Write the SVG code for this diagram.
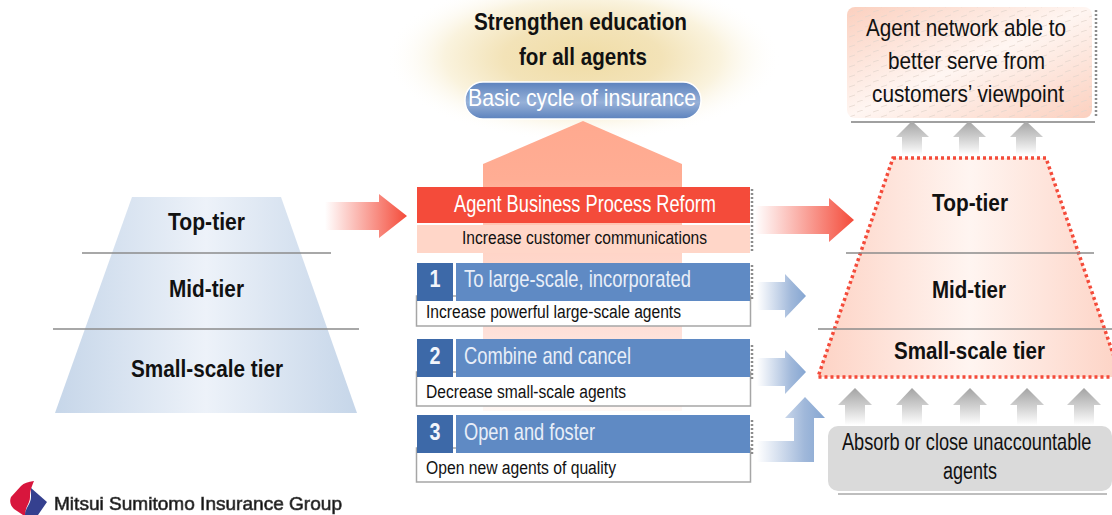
<svg xmlns="http://www.w3.org/2000/svg" width="1112" height="515" viewBox="0 0 1112 515">
<style>
text{font-family:"Liberation Sans",Arial,sans-serif;fill:#111}
.b{font-weight:bold;font-size:24px}
.m{font-size:24px}
.a{font-size:23px}
.s{font-size:18px}
.w{fill:#fff}
.wl{fill:#e8eef8}
.n{font-size:24px;font-weight:bold;fill:#f2f5fb}
.tier{stroke:#8c8c8c;stroke-width:1.3;fill:none}
.red{fill:#f44b3a}
.blue{fill:#5f8ac4}
.dark{fill:#3d69a8}
.desc{fill:#fff;stroke:#a6a6a6;stroke-width:1.5}
.dots{stroke:#8c8c8c;stroke-width:2.5;stroke-dasharray:2 2;fill:none}
.ga{fill:url(#gGray)}
.ba{fill:url(#gBlue)}
.ra{fill:url(#gRed)}
</style>
<defs>
<linearGradient id="gLeft"><stop offset="0" stop-color="#c6d6e9"/><stop offset=".5" stop-color="#edf2f9"/><stop offset="1" stop-color="#c6d6e9"/></linearGradient>
<linearGradient id="gRight"><stop offset="0" stop-color="#fdd3c5"/><stop offset=".5" stop-color="#fff5f1"/><stop offset="1" stop-color="#fdd3c5"/></linearGradient>
<linearGradient id="gBig" x1="0" y1="0" x2="0" y2="1"><stop offset="0" stop-color="#ffa98f"/><stop offset=".2" stop-color="#ffad94"/><stop offset=".46" stop-color="#ffd5c8"/><stop offset=".72" stop-color="#ffe0d8"/><stop offset="1" stop-color="#fff8f5"/></linearGradient>
<linearGradient id="gPill" x1="0" y1="0" x2="0" y2="1"><stop offset="0" stop-color="#5c82bd"/><stop offset=".55" stop-color="#97b1d8"/><stop offset="1" stop-color="#5c82bd"/></linearGradient>
<linearGradient id="gRed"><stop offset="0" stop-color="#f44b3a" stop-opacity="0"/><stop offset="1" stop-color="#f44b3a"/></linearGradient>
<linearGradient id="gBlue"><stop offset="0" stop-color="#a5bbdc" stop-opacity="0"/><stop offset=".7" stop-color="#a0b8da"/><stop offset="1" stop-color="#85a6d2"/></linearGradient>
<linearGradient id="gGray" x1="0" y1="0" x2="0" y2="1"><stop offset="0" stop-color="#a3a3a3"/><stop offset=".5" stop-color="#d0d0d0"/><stop offset="1" stop-color="#fff"/></linearGradient>
<radialGradient id="gGlow"><stop offset="0" stop-color="#f0dca5"/><stop offset=".4" stop-color="#f3e3b8"/><stop offset=".7" stop-color="#faf3de"/><stop offset="1" stop-color="#fff" stop-opacity="0"/></radialGradient>
<linearGradient id="gGoal" x1="0" y1="0" x2="1" y2="1"><stop offset="0" stop-color="#fbd0bf"/><stop offset=".5" stop-color="#fff6f2"/><stop offset="1" stop-color="#fbd0bf"/></linearGradient>
<pattern id="pGoal" width="16" height="10" patternUnits="userSpaceOnUse"><path d="M1 7L7 5M9 2L15 0" stroke="#e3d4cc" stroke-width=".7" fill="none"/></pattern>
<filter id="soft" x="-5%" y="-20%" width="110%" height="140%"><feGaussianBlur stdDeviation=".5"/></filter>
</defs>
<rect width="1112" height="515" fill="#fff"/>

<g id="left-pyramid">
<polygon points="132,197 281,197 357,413 55,413" fill="url(#gLeft)"/>
<path class="tier" d="M82 253H331M53 329H359"/>
<text class="b" x="168" y="230" textLength="77" lengthAdjust="spacingAndGlyphs">Top-tier</text>
<text class="b" x="169" y="297" textLength="75" lengthAdjust="spacingAndGlyphs">Mid-tier</text>
<text class="b" x="131" y="377" textLength="152" lengthAdjust="spacingAndGlyphs">Small-scale tier</text>
</g>

<g id="education">
<ellipse cx="583" cy="58" rx="198" ry="84" fill="url(#gGlow)"/>
<text class="b" x="474" y="30" textLength="213" lengthAdjust="spacingAndGlyphs">Strengthen education</text>
<text class="b" x="519" y="65" textLength="128" lengthAdjust="spacingAndGlyphs">for all agents</text>
</g>

<g id="basic-cycle">
<rect x="465" y="82" width="236" height="37" rx="18" fill="url(#gPill)" stroke="#fff" stroke-width="1.5"/>
<text class="m w" x="468" y="106" textLength="228" lengthAdjust="spacingAndGlyphs">Basic cycle of insurance</text>
</g>

<polygon id="big-arrow" points="583,121 682,164 682,411 483,411 483,164" fill="url(#gBig)"/>

<g id="reform">
<rect x="417" y="187" width="333" height="36" class="red"/>
<rect x="417" y="225" width="333" height="28" fill="#ffd6c8"/>
<path class="dots" d="M752 189V251"/>
<text class="m w" x="454" y="212" textLength="262" lengthAdjust="spacingAndGlyphs">Agent Business Process Reform</text>
<text class="s" x="462" y="244" textLength="245" lengthAdjust="spacingAndGlyphs">Increase customer communications</text>
</g>

<g id="step-1">
<rect x="416.500" y="296" width="334" height="30" class="desc"/>
<rect x="417" y="263" width="36" height="38" class="dark"/>
<rect x="456" y="263" width="294" height="38" class="blue"/>
<path class="dots" d="M752 265V299"/>
<text class="n" x="435" y="287" text-anchor="middle" textLength="11" lengthAdjust="spacingAndGlyphs">1</text>
<text class="m wl" x="464" y="287" textLength="227" lengthAdjust="spacingAndGlyphs">To large-scale, incorporated</text>
<text class="s" x="426" y="318" textLength="255" lengthAdjust="spacingAndGlyphs">Increase powerful large-scale agents</text>
</g>
<g id="step-2">
<rect x="416.500" y="372" width="334" height="34" class="desc"/>
<rect x="417" y="339" width="36" height="38" class="dark"/>
<rect x="456" y="339" width="294" height="38" class="blue"/>
<path class="dots" d="M752 345V379"/>
<text class="n" x="435" y="364" text-anchor="middle" textLength="11" lengthAdjust="spacingAndGlyphs">2</text>
<text class="m wl" x="464" y="364" textLength="167" lengthAdjust="spacingAndGlyphs">Combine and cancel</text>
<text class="s" x="426" y="398" textLength="200" lengthAdjust="spacingAndGlyphs">Decrease small-scale agents</text>
</g>
<g id="step-3">
<rect x="416.500" y="448" width="334" height="34" class="desc"/>
<rect x="417" y="415" width="36" height="38" class="dark"/>
<rect x="456" y="415" width="294" height="38" class="blue"/>
<path class="dots" d="M752 420V455"/>
<text class="n" x="435" y="440" text-anchor="middle" textLength="11" lengthAdjust="spacingAndGlyphs">3</text>
<text class="m wl" x="464" y="440" textLength="131" lengthAdjust="spacingAndGlyphs">Open and foster</text>
<text class="s" x="426" y="474" textLength="190" lengthAdjust="spacingAndGlyphs">Open new agents of quality</text>
</g>

<g id="right-pyramid">
<polygon points="893,158 1046,158 1121,377 818,377" fill="url(#gRight)" stroke="#f44b3a" stroke-width="3.500" stroke-dasharray="3 3"/>
<path class="tier" d="M846 253H1094M818 329H1112"/>
<text class="b" x="932" y="211" textLength="76" lengthAdjust="spacingAndGlyphs">Top-tier</text>
<text class="b" x="932" y="298" textLength="74" lengthAdjust="spacingAndGlyphs">Mid-tier</text>
<text class="b" x="894" y="359" textLength="151" lengthAdjust="spacingAndGlyphs">Small-scale tier</text>
</g>

<g id="goal">
<path d="M851 122H1095" stroke="#a0a0a0" stroke-width="2" fill="none"/>
<path class="dots" d="M1096 10V117"/>
<rect x="847" y="7" width="245" height="111" rx="8" fill="url(#gGoal)"/>
<rect x="847" y="7" width="245" height="111" rx="8" fill="url(#pGoal)"/>
<text class="m" x="866" y="36" textLength="200" lengthAdjust="spacingAndGlyphs">Agent network able to</text>
<text class="m" x="888" y="69" textLength="157" lengthAdjust="spacingAndGlyphs">better serve from</text>
<text class="m" x="872" y="102" textLength="192" lengthAdjust="spacingAndGlyphs">customers’ viewpoint</text>
</g>

<g id="absorb">
<path d="M838 494H1107" stroke="#a8a8a8" stroke-width="1.500" fill="none"/>
<rect x="828" y="426" width="284" height="65" rx="10" fill="#dadada"/>
<text class="a" transform="translate(842 450) scale(.79 1)">Absorb or close unaccountable</text>
<text class="a" x="970" y="479" text-anchor="middle" textLength="54" lengthAdjust="spacingAndGlyphs">agents</text>
</g>

<g id="connectors">
<polygon class="ra" points="325,202 379,202 379,194 407,216 379,238 379,230 325,230"/>
<polygon class="ra" points="755,206 829,206 829,198 854,220 829,242 829,234 755,234"/>
<polygon class="ba" points="757,282 785,282 785,274 806,296 785,318 785,310 757,310"/>
<polygon class="ba" points="757,358 785,358 785,350 806,372 785,394 785,386 757,386"/>
<polygon class="ba" points="757,441 794,441 794,418 785,418 805,397 825,418 814,418 814,462 757,462"/>
<polygon class="ga" points="912,121 929,137 922,137 922,155 902,155 902,137 896,137"/>
<polygon class="ga" points="969,121 986,137 979,137 979,155 959,155 959,137 953,137"/>
<polygon class="ga" points="1026,121 1043,137 1036,137 1036,155 1016,155 1016,137 1010,137"/>
<polygon class="ga" points="855,388 872,405 865,405 865,425 845,425 845,405 838,405"/>
<polygon class="ga" points="912,388 929,405 922,405 922,425 902,425 902,405 896,405"/>
<polygon class="ga" points="970,388 987,405 980,405 980,425 960,425 960,405 953,405"/>
<polygon class="ga" points="1027,388 1044,405 1037,405 1037,425 1017,425 1017,405 1010,405"/>
<polygon class="ga" points="1084,388 1101,405 1094,405 1094,425 1074,425 1074,405 1067,405"/>
</g>

<g id="logo">
<path d="M34 481 C28 482 24 483 21 486 L11 497 C9 502 11 506 14 509 L23 515 L26 515 C24 508 30 504 30 497 C30 492 31 488 34 481Z" fill="#d8163c" filter="url(#soft)"/>
<path d="M31 488 L47 502 L38 515 L25 515 C25 508 31 504 31 497Z" fill="#36418f" filter="url(#soft)"/>
<text x="54" y="510" font-size="19" textLength="288" lengthAdjust="spacingAndGlyphs" fill="#222" stroke="#444" stroke-width=".7" filter="url(#soft)">Mitsui Sumitomo Insurance Group</text>
</g>
</svg>
